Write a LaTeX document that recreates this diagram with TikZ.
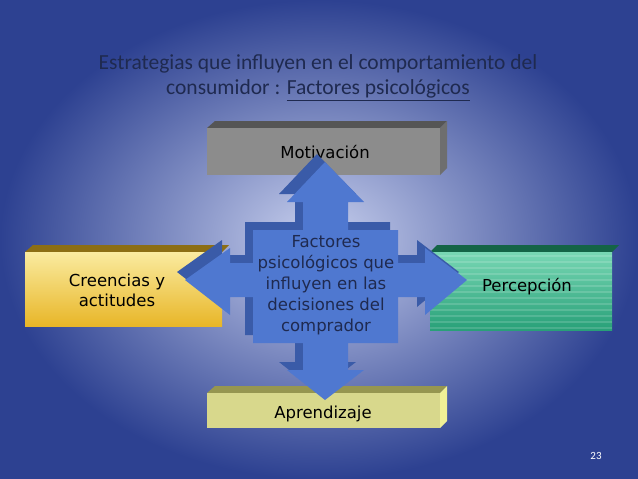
\documentclass[tikz,border=0pt]{standalone}
\usepackage{fontspec}
\setmainfont{DejaVu Sans}
\newfontfamily\titlefont{Carlito}
\usetikzlibrary{shadings}
\definecolor{navy}{HTML}{1F2A50}
\definecolor{arrowc}{HTML}{4F78D0}
\definecolor{arrowd}{HTML}{3A5BA8}
\definecolor{bgin}{RGB}{200,208,238}
\definecolor{bgout}{RGB}{45,65,145}
\definecolor{motfront}{RGB}{140,140,140}
\definecolor{mottop}{RGB}{85,85,85}
\definecolor{motside}{RGB}{110,110,110}
\definecolor{aprtop}{RGB}{150,150,80}
\definecolor{aprside}{RGB}{240,240,150}
\definecolor{aprfront}{RGB}{216,216,140}
\definecolor{cretop}{RGB}{140,110,20}
\definecolor{crea}{RGB}{250,235,160}
\definecolor{creb}{RGB}{232,182,40}
\definecolor{pertop}{RGB}{20,100,70}
\definecolor{pera}{RGB}{120,215,180}
\definecolor{perb}{RGB}{40,160,120}
\tikzset{
 lbl/.style={font=\fontsize{16.5}{20}\selectfont, text=black, align=center},
}
\begin{document}
\begin{tikzpicture}[x=1pt,y=-1pt]
\useasboundingbox (0,0) rectangle (638,479);
\shade[inner color=bgin, outer color=bgout] (0,0) rectangle (638,479);
% title
\node[font=\titlefont\fontsize{21.5}{26}\selectfont, text=navy] (t1) at (318,64) {Estrategias que influyen en el comportamiento del};
\node[font=\titlefont\fontsize{21.5}{26}\selectfont, text=navy] (t2) at (318,90) {consumidor : \underline{Factores psicológicos}};
\node[font=\titlefont\fontsize{11}{13}\selectfont, text=white] (pg) at (596,456) {23};
% Motivacion box
\fill[mottop] (207,128) -- (215,121) -- (447,121) -- (440,128) -- cycle;
\fill[motside] (440,128) -- (447,121) -- (447,168) -- (440,175) -- cycle;
\fill[motfront] (207,128) rectangle (440,175);
\node[lbl] (mot) at (325,152) {Motivación};
% Aprendizaje box
\fill[aprtop] (207,393) -- (215,386) -- (447,386) -- (440,393) -- cycle;
\fill[aprside] (440,393) -- (447,386) -- (447,421) -- (440,428) -- cycle;
\fill[aprfront] (207,393) rectangle (440,428);
\node[lbl] (apr) at (323,414) {Aprendizaje};
% Creencias box
\fill[cretop] (25,252) -- (33,245) -- (229,245) -- (222,252) -- cycle;
\shade[top color=crea, bottom color=creb] (25,252) rectangle (222,326);
\node[lbl] (cre) at (117,290) {Creencias y\\actitudes};
% Percepcion box
\fill[pertop] (430,252) -- (437,245) -- (619,245) -- (612,252) -- cycle;
\shade[top color=pera, bottom color=perb] (430,252) rectangle (612,330);
\foreach \yy in {256,262,...,328} \draw[white, opacity=0.15, line width=1.5pt] (430,\yy) -- (612,\yy);
\node[lbl] (per) at (527,287) {Percepción};
% cross
\def\cross{(303,202) -- (287,202) -- (325,162) -- (364,202) -- (348,202) -- (348,230) -- (398,230) -- (398,263) -- (425,263) -- (425,248) -- (467,280) -- (425,315) -- (425,297) -- (398,297) -- (398,343) -- (348,343) -- (348,370) -- (364,370) -- (325,400) -- (287,370) -- (303,370) -- (303,343) -- (253,343) -- (253,297) -- (230,297) -- (230,315) -- (185,280) -- (230,248) -- (230,263) -- (253,263) -- (253,230) -- (303,230) -- cycle}
\fill[arrowd, shift={(-8,-8)}] \cross;
\fill[arrowc] \cross;
\node[font=\fontsize{16.5}{21}\selectfont, text=navy, align=center] (fac) at (326,285) {Factores\\psicológicos que\\influyen en las\\decisiones del\\comprador};
\end{tikzpicture}
\end{document}
